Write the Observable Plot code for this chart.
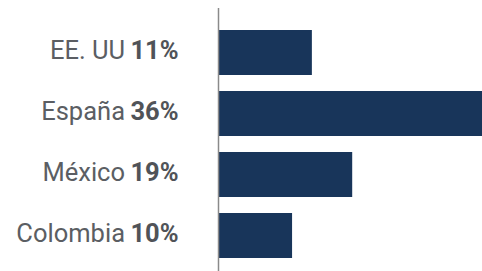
<!DOCTYPE html>
<html>
<head>
<meta charset="utf-8">
<script src="https://cdn.jsdelivr.net/npm/d3@7"></script>
<script src="https://cdn.jsdelivr.net/npm/@observablehq/plot@0.6"></script>
<style>
  html, body { margin: 0; padding: 0; background: #fff; }
  #chart svg { display: block; }
</style>
</head>
<body>
<div id="chart"></div>
<script>
const countries = ["EE. UU", "España", "México", "Colombia"];
const pctLabels = ["11%", "36%", "19%", "10%"];
const barValues = [12.8, 36, 18.3, 10.1];

const data = countries.map((c, i) => ({country: c, pct: pctLabels[i], value: barValues[i]}));

const fontSize = 25.5;
const chart = Plot.plot({
  width: 482,
  height: 271,
  marginLeft: 218,
  marginRight: 0,
  marginTop: 8,
  marginBottom: 0,
  style: {fontFamily: "Roboto, sans-serif", background: "#fff"},
  x: {domain: [0, 36], axis: null},
  y: {domain: countries, axis: null, paddingInner: 0.258, paddingOuter: 0.25, align: 0.645},
  marks: [
    Plot.barX(data, {x: "value", y: "country", fill: "#18355a"}),
    Plot.ruleX([0], {stroke: "#8a8a8a", strokeWidth: 1.5}),
    Plot.text(data, {x: () => 0, y: "country", text: "pct", textAnchor: "end", dx: -40, dy: -2,
      fontSize, fontWeight: "bold", fill: "#505358"}),
    Plot.text(data, {x: () => 0, y: "country", text: "country", textAnchor: "end", dx: -93.5, dy: -2,
      fontSize, fill: "#5b5e63"})
  ]
});
document.getElementById("chart").appendChild(chart);
</script>
</body>
</html>
